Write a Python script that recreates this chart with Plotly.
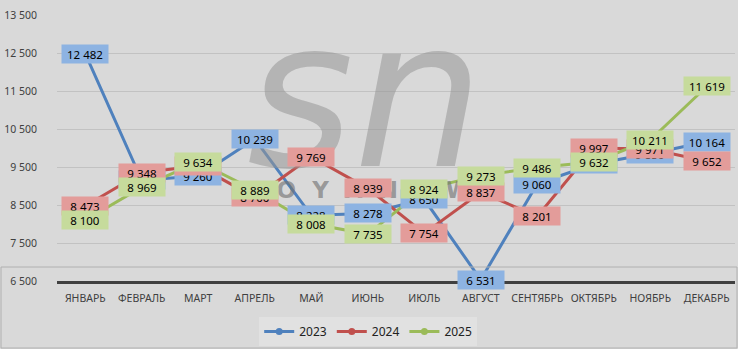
import plotly.graph_objects as go

months = ["ЯНВАРЬ", "ФЕВРАЛЬ", "МАРТ", "АПРЕЛЬ", "МАЙ", "ИЮНЬ", "ИЮЛЬ",
          "АВГУСТ", "СЕНТЯБРЬ", "ОКТЯБРЬ", "НОЯБРЬ", "ДЕКАБРЬ"]
v2023 = [12482, 9150, 9260, 10239, 8228, 8278, 8650, 6531, 9060, 9580, 9850, 10164]
v2024 = [8473, 9348, 9530, 8700, 9769, 8939, 7754, 8837, 8201, 9997, 9971, 9652]
v2025 = [8100, 8969, 9634, 8889, 8008, 7735, 8924, 9273, 9486, 9632, 10211, 11619]
years = ["2023", "2024", "2025"]
y_ticks = [6500, 7500, 8500, 9500, 10500, 11500, 12500, 13500]

series = [v2023, v2024, v2025]
line_colors = ["#4f81bd", "#c0504d", "#9bbb59"]
label_bg = ["#8db3e2", "#e39c9a", "#c6db9c"]

def fmt(v):
    return f"{v:,}".replace(",", " ")

fig = go.Figure()
for name, vals, col in zip(years, series, line_colors):
    fig.add_trace(go.Scatter(
        x=months, y=vals, name=name, mode="lines+markers",
        line=dict(color=col, width=3),
        marker=dict(color=col, size=14), showlegend=False,
    ))
for name, col in zip(years, line_colors):
    fig.add_trace(go.Scatter(
        x=[None], y=[None], name=name, mode="lines+markers",
        line=dict(color=col, width=3), marker=dict(color=col, size=7),
    ))

annotations = []
# watermark
annotations.append(dict(x=0.455, y=1.155, xref="paper", yref="paper", text="<i>sn</i>",
                        showarrow=False, font=dict(family="DejaVu Sans", size=205,
                        color="rgba(150,150,150,0.55)")))
annotations.append(dict(x=0.468, y=0.342, xref="paper", yref="paper",
                        text="<b>S  O  Y  A  N  E  W  S</b>", showarrow=False,
                        font=dict(family="DejaVu Sans", size=23, color="rgba(115,115,115,0.65)")))
for vals, bg in zip(series, label_bg):
    for m, v in zip(months, vals):
        annotations.append(dict(
            x=m, y=v, text=fmt(v), showarrow=False, bgcolor=bg,
            width=44, height=16, font=dict(family="Noto Sans", size=11.5, color="#000000"),
        ))

fig.update_layout(
    width=738, height=349,
    margin=dict(l=57, r=3, t=15, b=68),
    paper_bgcolor="#d9d9d9", plot_bgcolor="#d9d9d9",
    font=dict(family="Noto Sans", color="#404040"),
    showlegend=True,
    legend=dict(orientation="h", x=0.459, xanchor="center", y=-0.135, yanchor="top",
                bgcolor="#e1e1e1", font=dict(size=12, color="#222222"),
                itemwidth=30, tracegroupgap=0),
    annotations=annotations,
    shapes=[dict(type="rect", xref="paper", yref="paper",
                 x0=-56/678, x1=680/678, y0=-67/266, y1=14/266,
                 line=dict(color="#b0b0b0", width=1))],
)
fig.update_xaxes(showgrid=False, showline=True, linecolor="#404040", linewidth=2.5,
                 tickfont=dict(size=10.5, color="#404040"), ticklabelstandoff=6,
                 range=[-0.5, 11.5], fixedrange=True)
fig.update_yaxes(range=[6500, 13500], tickvals=y_ticks,
                 ticktext=[fmt(t) for t in y_ticks], showgrid=True,
                 gridcolor="#c2c2c2", gridwidth=1, zeroline=False,
                 tickfont=dict(size=10.5, color="#404040"), ticklabelstandoff=19)

fig.write_html("out.html")
